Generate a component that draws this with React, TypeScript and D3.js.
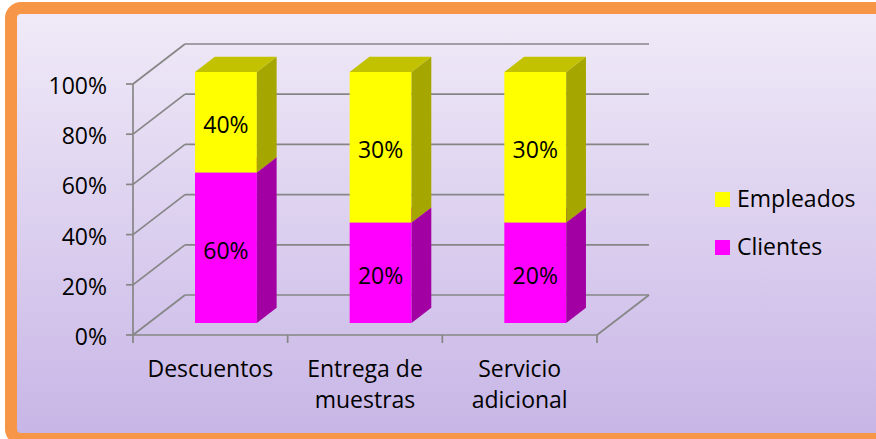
import React from 'react';
import * as d3 from 'd3';

const categories: string[][] = [["Descuentos"], ["Entrega de", "muestras"], ["Servicio", "adicional"]];
const clientes = [60, 20, 20];
const empleados = [40, 30, 30];
const yTicks = [0, 20, 40, 60, 80, 100];
const legendNames = ["Empleados", "Clientes"];

const FONT = "'Open Sans', sans-serif";
const FS = 23;

export default function App() {
  const W = 876, H = 439;
  const x0 = 133, x1 = 597, yBottom = 335, yTop = 84;
  const DX = 52, DY = -40;
  const d0 = 0.3, d1 = 0.68;
  const ids = categories.map((_, i) => String(i));
  const x = d3.scaleBand<string>().domain(ids).range([x0, x1]).paddingInner(0).paddingOuter(0);
  const y = d3.scaleLinear().domain([0, 100]).range([yBottom, yTop]);
  const P = (px: number, py: number, d: number): [number, number] => [px + DX * d, py + DY * d];
  const poly = (pts: [number, number][]) => pts.map(p => p.join(',')).join(' ');
  const grid = '#868686';
  const bw = x.bandwidth();

  const colors = {
    Clientes: { front: '#ff00ff', side: '#a200a2', top: '#c400c4' },
    Empleados: { front: '#ffff00', side: '#a6a600', top: '#c2c200' },
  };

  const bars = categories.map((_, i) => {
    const total = clientes[i] + empleados[i];
    const pc = (clientes[i] / total) * 100;
    const segs = [
      { name: 'Clientes', v0: 0, v1: pc, label: clientes[i] },
      { name: 'Empleados', v0: pc, v1: 100, label: empleados[i] },
    ];
    const bx = (x(String(i)) as number) + 0.3 * bw;
    const w = 0.4 * bw;
    return { bx, w, segs };
  });

  return (
    <svg width={W} height={H} style={{ position: 'absolute', left: 0, top: 0 }} fontFamily={FONT}>
      <defs>
        <linearGradient id="bg" x1="0" y1="0" x2="0" y2="1">
          <stop offset="0%" stopColor="#f1ebf8" />
          <stop offset="100%" stopColor="#c7b5e6" />
        </linearGradient>
      </defs>
      <rect x={0} y={0} width={W} height={H} fill="#ffffff" />
      <rect x={11} y={8} width={900} height={431} rx={10} fill="url(#bg)" stroke="#f79646" strokeWidth={12} />

      {yTicks.map(t => {
        const a = P(x0, y(t), 1);
        const b = P(x1, y(t), 1);
        return (
          <g key={t}>
            <line x1={a[0]} y1={a[1]} x2={b[0]} y2={b[1]} stroke={grid} strokeWidth={1.7} />
            <line x1={x0} y1={y(t)} x2={a[0]} y2={a[1]} stroke={grid} strokeWidth={1.7} />
            <line x1={x0 - 7} y1={y(t)} x2={x0} y2={y(t)} stroke={grid} strokeWidth={1.7} />
            <text x={107} y={y(t) + 1} textAnchor="end" dominantBaseline="central" fontSize={FS} fill="#000">{t}%</text>
          </g>
        );
      })}
      <line x1={x0} y1={y(0)} x2={x1} y2={y(0)} stroke={grid} strokeWidth={1.7} />
      <line x1={x1} y1={y(0)} x2={P(x1, y(0), 1)[0]} y2={P(x1, y(0), 1)[1]} stroke={grid} strokeWidth={1.7} />
      <line x1={x0} y1={y(0)} x2={x0} y2={y(100)} stroke={grid} strokeWidth={1.7} />
      {[...ids.map(id => x(id) as number), x1].map((tx, i) => (
        <line key={i} x1={tx} y1={y(0)} x2={tx} y2={y(0) + 8} stroke={grid} strokeWidth={1.7} />
      ))}

      {bars.map((b, i) => (
        <g key={i}>
          {b.segs.map(s => {
            const c = colors[s.name as 'Clientes' | 'Empleados'];
            const ya = y(s.v0), yb = y(s.v1);
            const front = [P(b.bx, ya, d0), P(b.bx + b.w, ya, d0), P(b.bx + b.w, yb, d0), P(b.bx, yb, d0)];
            const side = [P(b.bx + b.w, ya, d0), P(b.bx + b.w, yb, d0), P(b.bx + b.w, yb, d1), P(b.bx + b.w, ya, d1)];
            const top = [P(b.bx, yb, d0), P(b.bx + b.w, yb, d0), P(b.bx + b.w, yb, d1), P(b.bx, yb, d1)];
            const lc = P(b.bx + b.w / 2, (ya + yb) / 2, d0);
            return (
              <g key={s.name}>
                <polygon points={poly(front)} fill={c.front} />
                <polygon points={poly(side)} fill={c.side} />
                <polygon points={poly(top)} fill={c.top} />
                <text x={lc[0]} y={lc[1] + 2} textAnchor="middle" dominantBaseline="central" fontSize={FS} fill="#000">{s.label}%</text>
              </g>
            );
          })}
        </g>
      ))}

      {categories.map((lines, i) => {
        const cx = (x(String(i)) as number) + bw / 2;
        return (
          <text key={i} x={cx} textAnchor="middle" fontSize={FS} fill="#000">
            {lines.map((l, j) => (
              <tspan key={j} x={cx} y={377 + j * 31}>{l}</tspan>
            ))}
          </text>
        );
      })}

      {legendNames.map((n, i) => {
        const c = colors[n as 'Clientes' | 'Empleados'];
        const ly = 192 + i * 48;
        return (
          <g key={n}>
            <rect x={715} y={ly} width={15} height={15} fill={c.front} />
            <text x={737} y={ly + 15} fontSize={FS} fill="#000">{n}</text>
          </g>
        );
      })}
    </svg>
  );
}
